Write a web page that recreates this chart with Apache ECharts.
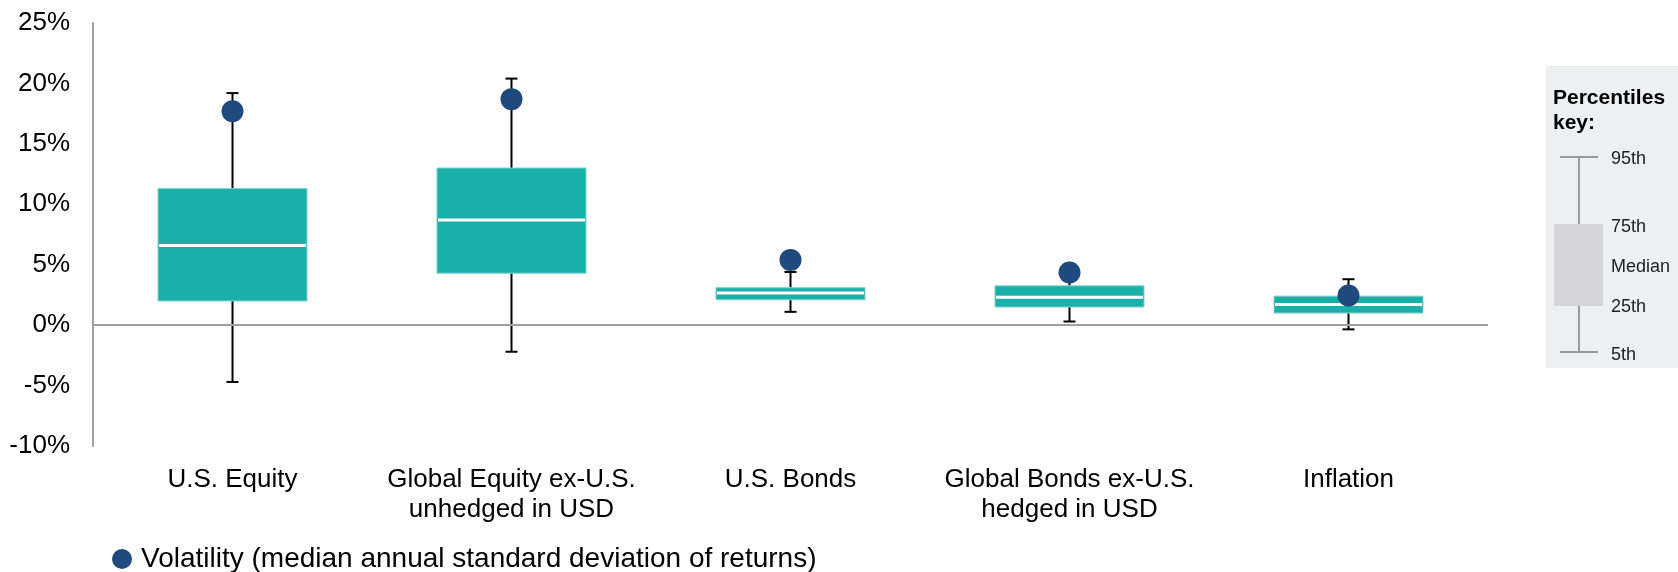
<!DOCTYPE html>
<html>
<head>
<meta charset="utf-8">
<title>Return percentiles and volatility</title>
<script src="https://cdn.jsdelivr.net/npm/echarts@6/dist/echarts.min.js"></script>
<style>
  html, body { margin: 0; padding: 0; background: #fff; }
  #chart { width: 1678px; height: 572px; }
</style>
</head>
<body>
<div id="chart"></div>
<script>
// asset classes along the x axis
var categories = [
  'U.S. Equity',
  'Global Equity ex-U.S.\nunhedged in USD',
  'U.S. Bonds',
  'Global Bonds ex-U.S.\nhedged in USD',
  'Inflation'
];
// percentiles of annualised returns, in %
var p5  = [-4.7, -2.2, 1.1, 0.3, -0.35];
var p25 = [2.0, 4.3, 2.1, 1.5, 1.0];
var p50 = [6.6, 8.7, 2.65, 2.3, 1.7];
var p75 = [11.3, 13.0, 3.1, 3.25, 2.4];
var p95 = [19.2, 20.4, 4.4, 3.8, 3.8];
// median annual standard deviation of returns, in %
var volatility = [17.7, 18.7, 5.4, 4.35, 2.45];
var volName = 'Volatility (median annual standard deviation of returns)';

var yMin = -10, yMax = 25, yStep = 5;
var font = "'Liberation Sans', Arial, sans-serif";
var teal = '#1ab0aa';
var navy = '#1f4a7e';

var boxData = categories.map(function (c, i) {
  return [i, p5[i], p25[i], p50[i], p75[i], p95[i]];
});
var dotData = categories.map(function (c, i) {
  return [i, volatility[i]];
});

function renderBox(params, api) {
  var x = api.value(0);
  var lo = api.coord([x, api.value(1)]);
  var q1 = api.coord([x, api.value(2)]);
  var md = api.coord([x, api.value(3)]);
  var q3 = api.coord([x, api.value(4)]);
  var hi = api.coord([x, api.value(5)]);
  var bw = api.size([1, 0])[0] * 0.534;
  var cx = lo[0];
  var cap = 6;
  var black = { stroke: '#000', lineWidth: 2 };
  return {
    type: 'group',
    children: [
      { type: 'line', shape: { x1: cx, y1: lo[1], x2: cx, y2: q1[1] }, style: black },
      { type: 'line', shape: { x1: cx - cap, y1: lo[1], x2: cx + cap, y2: lo[1] }, style: black },
      { type: 'line', shape: { x1: cx, y1: q3[1], x2: cx, y2: hi[1] }, style: black },
      { type: 'line', shape: { x1: cx - cap, y1: hi[1], x2: cx + cap, y2: hi[1] }, style: black },
      { type: 'rect', shape: { x: cx - bw / 2, y: q3[1], width: bw, height: q1[1] - q3[1] },
        style: { fill: teal, stroke: '#7fd3cf', lineWidth: 1 } },
      { type: 'line', shape: { x1: cx - bw / 2 + 1, y1: md[1], x2: cx + bw / 2 - 1, y2: md[1] },
        style: { stroke: '#fff', lineWidth: 3 } }
    ]
  };
}

// percentiles key on the right
var keyX = 1546, keyY = 66;
var keyLabel = { fill: '#222', fontSize: 18, fontFamily: font, verticalAlign: 'middle' };
var keyGray = { stroke: '#9a9a9a', lineWidth: 2 };
var keyItems = [
  { type: 'rect', shape: { x: keyX, y: keyY, width: 132, height: 302 }, style: { fill: '#eeeff1' } },
  { type: 'text', x: 1553, y: 98, style: { text: 'Percentiles', fontSize: 21, fontWeight: 'bold', fontFamily: font, fill: '#000', verticalAlign: 'middle' } },
  { type: 'text', x: 1553, y: 123, style: { text: 'key:', fontSize: 21, fontWeight: 'bold', fontFamily: font, fill: '#000', verticalAlign: 'middle' } },
  { type: 'line', shape: { x1: 1579, y1: 157, x2: 1579, y2: 352 }, style: keyGray },
  { type: 'line', shape: { x1: 1560, y1: 157, x2: 1598, y2: 157 }, style: keyGray },
  { type: 'line', shape: { x1: 1560, y1: 352, x2: 1598, y2: 352 }, style: keyGray },
  { type: 'rect', shape: { x: 1554, y: 224, width: 49, height: 82 }, style: { fill: '#d5d5d7' } }
];
[['95th', 159], ['75th', 227], ['Median', 267], ['25th', 307], ['5th', 355]].forEach(function (k) {
  keyItems.push({ type: 'text', x: 1611, y: k[1], style: Object.assign({ text: k[0] }, keyLabel) });
});

var chart = echarts.init(document.getElementById('chart'));
chart.setOption({
  animation: false,
  textStyle: { fontFamily: font },
  grid: { left: 93, right: 190, top: 23, bottom: 126 },
  legend: {
    data: [{ name: volName, icon: 'circle' }],
    left: 107,
    top: 540,
    itemWidth: 20,
    itemHeight: 20,
    textStyle: { fontSize: 28, color: '#000', fontFamily: font, padding: [0, 0, 0, 4] }
  },
  xAxis: {
    type: 'category',
    data: categories,
    axisLine: { show: false },
    axisTick: { show: false },
    axisLabel: { fontSize: 26, color: '#000', lineHeight: 30, margin: 19, interval: 0, verticalAlign: 'top' }
  },
  yAxis: {
    type: 'value',
    min: yMin,
    max: yMax,
    interval: yStep,
    splitLine: { show: false },
    axisTick: { show: false },
    axisLine: { show: true, lineStyle: { color: '#a0a0a0', width: 2 } },
    axisLabel: { fontSize: 26, color: '#000', margin: 23, formatter: '{value}%' }
  },
  graphic: keyItems,
  series: [
    {
      type: 'line',
      data: [],
      silent: true,
      z: 1,
      markLine: {
        silent: true,
        symbol: 'none',
        label: { show: false },
        lineStyle: { color: '#a0a0a0', width: 2, type: 'solid' },
        data: [{ yAxis: 0 }]
      }
    },
    {
      type: 'custom',
      name: 'Percentiles',
      z: 2,
      renderItem: renderBox,
      encode: { x: 0, y: [1, 2, 3, 4, 5] },
      data: boxData
    },
    {
      type: 'scatter',
      name: volName,
      z: 3,
      symbol: 'circle',
      symbolSize: 22,
      itemStyle: { color: navy, opacity: 1 },
      data: dotData
    }
  ]
});
</script>
</body>
</html>
